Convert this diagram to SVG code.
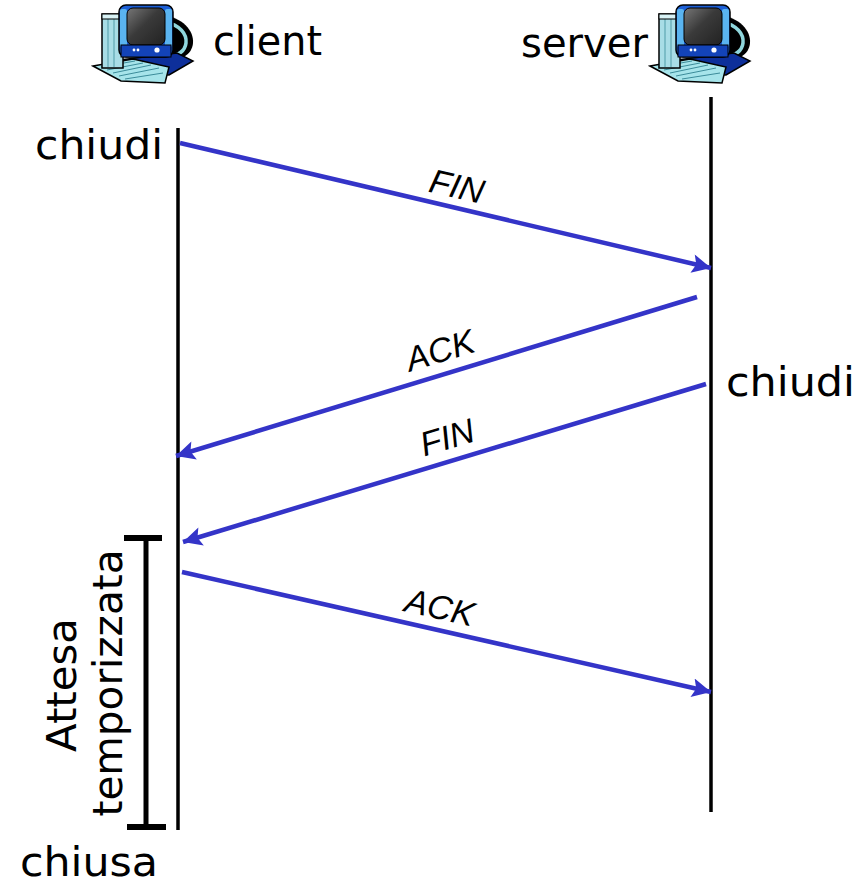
<svg xmlns="http://www.w3.org/2000/svg" width="864" height="884" viewBox="0 0 864 884">
  <style>
    .hand { font-family: "Comic Sans MS", "DejaVu Sans", sans-serif; font-size: 40px; fill: #000; }
    .msg { font-family: "Liberation Sans", Arial, sans-serif; font-style: italic; font-size: 34px; fill: #000; }
    .life { stroke: #000; stroke-width: 3.5; fill: none; }
    .arrow { stroke: #3434c8; stroke-width: 4.5; fill: none; marker-end: url(#head); }
    .bar { stroke: #000; fill: none; }
  </style>
  <defs>
    <marker id="head" viewBox="0 0 10 10" refX="10" refY="5" markerWidth="5" markerHeight="4.2" markerUnits="strokeWidth" orient="auto">
      <path d="M0,0 L10,5 L0,10 L2,5 Z" fill="#3434c8"/>
    </marker>
    <linearGradient id="scr" x1="0" y1="0" x2="1" y2="1">
      <stop offset="0" stop-color="#777"/>
      <stop offset="0.45" stop-color="#3a3a3a"/>
      <stop offset="1" stop-color="#222"/>
    </linearGradient>
    <!-- desktop computer clip-art, about 100 x 83 -->
    <g id="pc">
      <!-- monitor back -->
      <path d="M68,14 C90,16 101,30 100,42 C99,54 88,60 70,60 Z" fill="#000"/>
      <path d="M72,21 C87,24 94,33 93,42 C92,51 84,55 73,56" stroke="#8fd6dc" stroke-width="3.5" fill="none"/>
      <!-- base plate -->
      <polygon points="18,60 84,52 100,60 76,74 36,72" fill="#0d2f9a" stroke="#000" stroke-width="1.5"/>
      <!-- keyboard -->
      <polygon points="0,65 40,58 76,66 72,82 28,80" fill="#a6e4ea" stroke="#000" stroke-width="1.5"/>
      <path d="M8,66 L42,60 M14,69 L50,62 M20,72 L58,64 M26,75 L66,67 M32,78 L70,72" stroke="#3c8c9a" stroke-width="1"/>
      <!-- tower -->
      <rect x="9" y="13" width="21" height="54" fill="#a8dde6" stroke="#000" stroke-width="1.5"/>
      <path d="M15,14 V66 M21,14 V66" stroke="#5fa7b3" stroke-width="1.2"/>
      <rect x="9" y="13" width="21" height="5" fill="#d8f2f5" stroke="#000" stroke-width="1"/>
      <!-- monitor front -->
      <rect x="26" y="4" width="54" height="52" rx="7" fill="#1c5fd6" stroke="#000" stroke-width="1.5"/>
      <rect x="27" y="8" width="7" height="38" rx="2" fill="#5ab4f0"/>
      <rect x="72" y="8" width="7" height="38" rx="2" fill="#5ab4f0"/>
      <rect x="34" y="7" width="38" height="37" rx="6" fill="url(#scr)" stroke="#000" stroke-width="1"/>
      <rect x="28" y="44" width="50" height="12" fill="#1343b8" stroke="#000" stroke-width="1"/>
      <circle cx="41" cy="49" r="1.4" fill="#fff"/>
      <circle cx="45" cy="49" r="1.4" fill="#fff"/>
      <circle cx="64" cy="49" r="2.6" fill="#fff"/>
    </g>
  </defs>

  <rect width="864" height="884" fill="#fff"/>

  <!-- hosts -->
  <g id="client">
    <use href="#pc" x="93" y="1"/>
    <text class="hand" x="213" y="55" textLength="109" lengthAdjust="spacingAndGlyphs">client</text>
  </g>
  <g id="server">
    <use href="#pc" x="650" y="1"/>
    <text class="hand" x="521" y="57" textLength="127" lengthAdjust="spacingAndGlyphs">server</text>
  </g>

  <!-- timelines -->
  <g id="timelines">
    <line class="life" x1="178" y1="128" x2="178" y2="830"/>
    <line class="life" x1="711" y1="97" x2="711" y2="812"/>
  </g>

  <!-- event labels -->
  <g id="events">
    <text class="hand" x="35" y="159" textLength="128" lengthAdjust="spacingAndGlyphs">chiudi</text>
    <text class="hand" x="726" y="396" textLength="129" lengthAdjust="spacingAndGlyphs">chiudi</text>
    <text class="hand" x="20" y="876" textLength="138" lengthAdjust="spacingAndGlyphs">chiusa</text>
  </g>

  <!-- timed wait interval -->
  <g id="timed-wait">
    <line class="bar" x1="146" y1="538" x2="146" y2="827" stroke-width="5"/>
    <line class="bar" x1="124" y1="538" x2="162" y2="538" stroke-width="6"/>
    <line class="bar" x1="127" y1="827" x2="166" y2="827" stroke-width="6"/>
    <text class="hand" font-size="36" text-anchor="middle" transform="translate(76,685) rotate(-90)" textLength="134" lengthAdjust="spacingAndGlyphs">Attesa</text>
    <text class="hand" font-size="36" text-anchor="middle" transform="translate(122,683) rotate(-90)" textLength="267" lengthAdjust="spacingAndGlyphs">temporizzata</text>
  </g>

  <!-- messages -->
  <g id="connectors">
    <line class="arrow" x1="180" y1="143" x2="711" y2="268"/>
    <line class="arrow" x1="697" y1="297" x2="176" y2="456"/>
    <line class="arrow" x1="706" y1="384" x2="183" y2="542"/>
    <line class="arrow" x1="182" y1="572" x2="711" y2="692"/>
    <text class="msg" text-anchor="middle" transform="translate(457,186) rotate(13.2) translate(0,12)">FIN</text>
    <text class="msg" text-anchor="middle" transform="translate(440,350) rotate(-17) translate(0,12)">ACK</text>
    <text class="msg" text-anchor="middle" transform="translate(447,437) rotate(-16.8) translate(0,12)">FIN</text>
    <text class="msg" text-anchor="middle" transform="translate(440,607) rotate(12.8) translate(0,12)">ACK</text>
  </g>
</svg>
